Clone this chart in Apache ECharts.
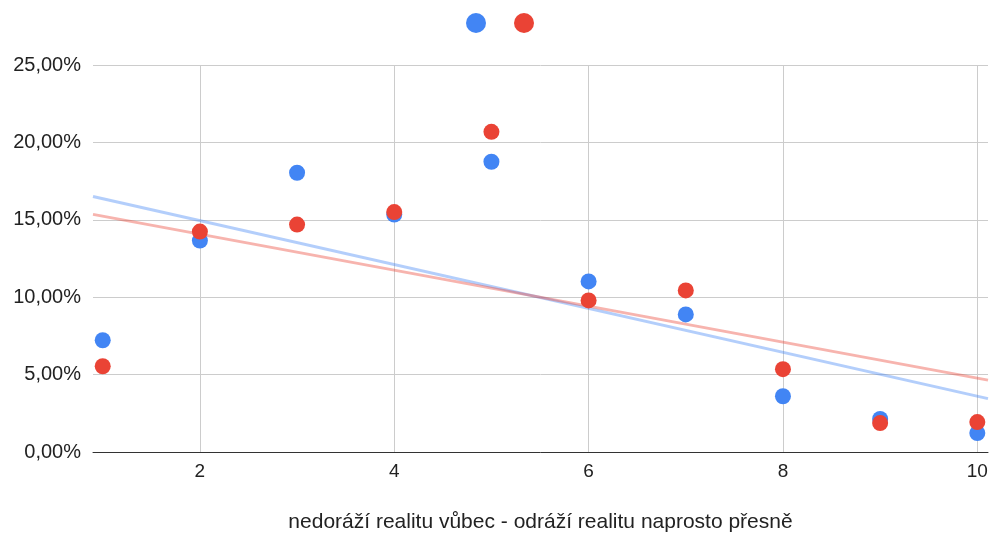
<!DOCTYPE html>
<html>
<head>
<meta charset="utf-8">
<script src="https://cdn.jsdelivr.net/npm/echarts@6/dist/echarts.min.js"></script>
<style>
html,body{margin:0;padding:0;background:#fff;}
#c{width:993px;height:538px;}
</style>
</head>
<body>
<div id="c"></div>
<script>
// ---- data ----
const xValues = [1, 2, 3, 4, 5, 6, 7, 8, 9, 10];
const blueValues = [7.22, 13.66, 18.04, 15.34, 18.75, 11.02, 8.89, 3.60, 2.13, 1.22];
const redValues  = [5.54, 14.24, 14.69, 15.50, 20.68, 9.79, 10.44, 5.35, 1.87, 1.93];
const xTickValues = [2, 4, 6, 8, 10];
const xAxisName = 'nedoráží realitu vůbec - odráží realitu naprosto přesně';
const seriesNames = ['Série 1', 'Série 2'];

const X_MIN = 0.9, X_MAX = 10.11;
const FONT = '"Liberation Sans", Arial, Helvetica, sans-serif';

function regression(xs, ys) {
  const n = xs.length;
  const mx = xs.reduce((a, b) => a + b, 0) / n;
  const my = ys.reduce((a, b) => a + b, 0) / n;
  let sxy = 0, sxx = 0;
  for (let i = 0; i < n; i++) { sxy += (xs[i] - mx) * (ys[i] - my); sxx += (xs[i] - mx) ** 2; }
  const b = sxy / sxx, a = my - b * mx;
  return x => a + b * x;
}
const fb = regression(xValues, blueValues);
const fr = regression(xValues, redValues);

const pts = ys => xValues.map((x, i) => [x, ys[i]]);

const chart = echarts.init(document.getElementById('c'), null, {renderer: 'canvas'});
chart.setOption({
  animation: false,
  textStyle: {fontFamily: FONT},
  legend: [
    {data: [seriesNames[0]], left: 466, top: 13, itemWidth: 20, itemHeight: 20, icon: 'circle', formatter: () => '', selectedMode: false, padding: 0},
    {data: [seriesNames[1]], left: 514, top: 13, itemWidth: 20, itemHeight: 20, icon: 'circle', formatter: () => '', selectedMode: false, padding: 0}
  ],
  grid: {left: 93, right: 5, top: 65, bottom: 85, containLabel: false},
  xAxis: {
    type: 'value', min: X_MIN, max: X_MAX,
    name: xAxisName, nameLocation: 'middle', nameGap: 60,
    nameTextStyle: {fontSize: 21, color: '#222', fontFamily: FONT},
    axisLine: {show: true, onZero: false, lineStyle: {color: '#333', width: 1}},
    axisTick: {show: false, customValues: xTickValues},
    axisLabel: {customValues: xTickValues, fontSize: 19, color: '#222', margin: 10, fontFamily: FONT},
    splitLine: {show: true, lineStyle: {color: '#cccccc', width: 1}}
  },
  yAxis: {
    type: 'value', min: 0, max: 25, interval: 5,
    axisLine: {show: false}, axisTick: {show: false},
    axisLabel: {fontSize: 20, color: '#222', margin: 12, fontFamily: FONT,
      formatter: v => v.toFixed(2).replace('.', ',') + '%'},
    splitLine: {show: true, lineStyle: {color: '#cccccc', width: 1}}
  },
  series: [
    {name: 'trend1', type: 'line', data: [[X_MIN, fb(X_MIN)], [X_MAX, fb(X_MAX)]], symbol: 'none', silent: true, z: 1,
      lineStyle: {color: '#4285F4', width: 3, opacity: 0.4}},
    {name: 'trend2', type: 'line', data: [[X_MIN, fr(X_MIN)], [X_MAX, fr(X_MAX)]], symbol: 'none', silent: true, z: 1,
      lineStyle: {color: '#EA4335', width: 3, opacity: 0.4}},
    {name: seriesNames[0], type: 'scatter', data: pts(blueValues), symbolSize: 16, z: 3,
      itemStyle: {color: '#4285F4', opacity: 1}},
    {name: seriesNames[1], type: 'scatter', data: pts(redValues), symbolSize: 16, z: 4,
      itemStyle: {color: '#EA4335', opacity: 1}}
  ]
});
</script>
</body>
</html>
